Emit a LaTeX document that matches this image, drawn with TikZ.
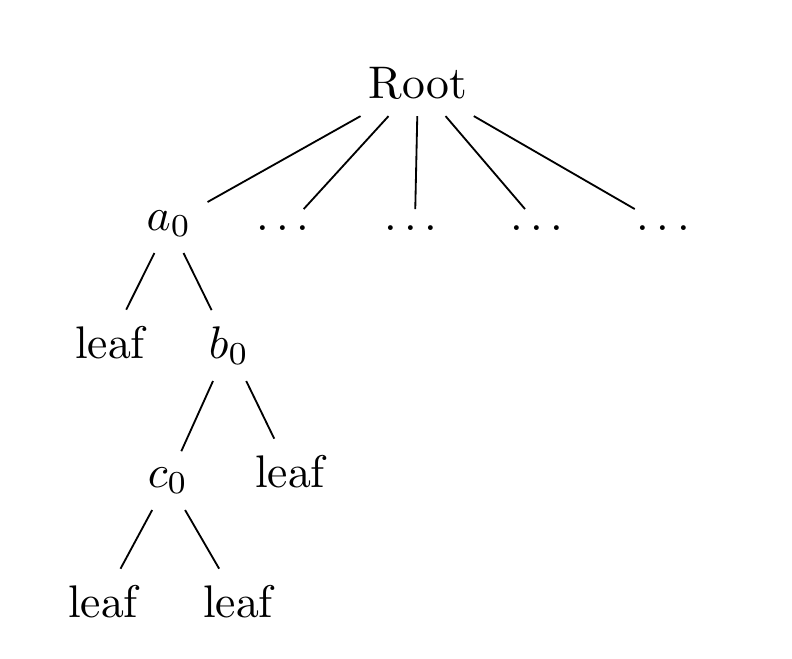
\documentclass[tikz,border=0pt]{standalone}
\newcommand{\tdots}{.\kern\fontdimen3\font.\kern\fontdimen3\font.\kern\fontdimen3\font}
\begin{document}
\begin{tikzpicture}[tn/.style={anchor=base}]
      \useasboundingbox (0,0) rectangle (6.09,5.06);
      \node[tn] (root) at (3.214,4.299) {Root};
      \node[tn] (a0) at (1.300,3.291) {$a_0$};
      \node[tn] (d1) at (2.205,3.291) {\tdots};
      \node[tn] (d2) at (3.190,3.291) {\tdots};
      \node[tn] (d3) at (4.159,3.291) {\tdots};
      \node[tn] (d4) at (5.128,3.291) {\tdots};
      \node[tn] (leafa) at (0.846,2.307) {leaf};
      \node[tn] (b0) at (1.761,2.307) {$b_0$};
      \node[tn] (c0) at (1.292,1.315) {$c_0$};
      \node[tn] (leafb) at (2.230,1.315) {leaf};
      \node[tn] (leafc) at (0.792,0.315) {leaf};
      \node[tn] (leafd) at (1.830,0.315) {leaf};
      \draw (root) -- (a0) (root) -- (d1) (root) -- (d2) (root) -- (d3) (root) -- (d4);
      \draw (a0) -- (leafa) (a0) -- (b0);
      \draw (b0) -- (c0) (b0) -- (leafb);
      \draw (c0) -- (leafc) (c0) -- (leafd);
    \end{tikzpicture}
\end{document}
